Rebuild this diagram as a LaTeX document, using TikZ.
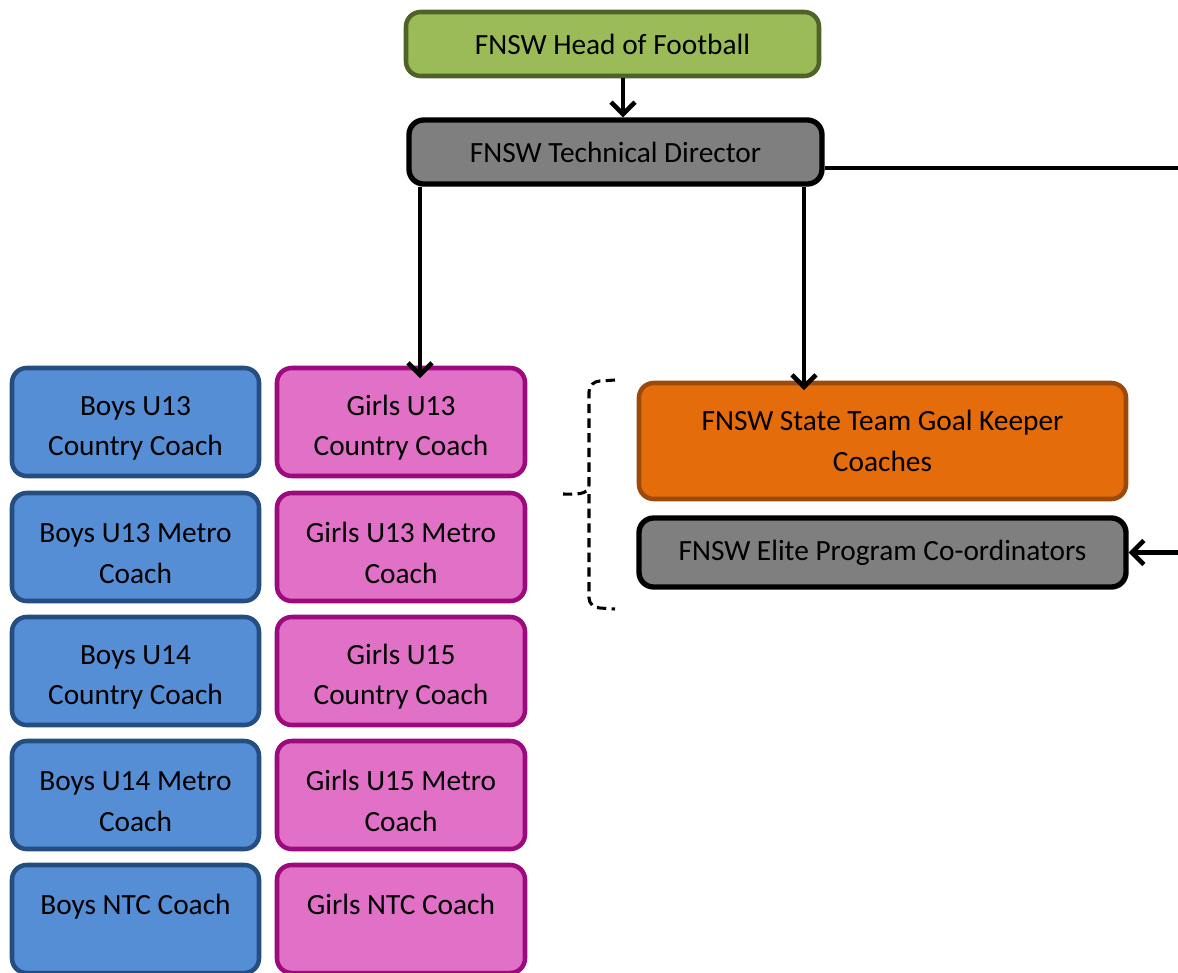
\documentclass[tikz,border=0pt]{standalone}
\usepackage{fontspec}
\setmainfont{Carlito}
\usetikzlibrary{arrows.meta}
\definecolor{hgreen}{HTML}{9BBB59}
\definecolor{hgreenb}{HTML}{4F6228}
\definecolor{tgray}{HTML}{7F7F7F}
\definecolor{bblue}{HTML}{558ED5}
\definecolor{bblueb}{HTML}{254E80}
\definecolor{gpink}{HTML}{E071C6}
\definecolor{gpinkb}{HTML}{9C0A7E}
\definecolor{gkor}{HTML}{E46C0A}
\definecolor{gkorb}{HTML}{9C4A0C}
\newcommand{\lift}{\rule{0pt}{24pt}}
\tikzset{
  box/.style={rounded corners=11pt, line width=3.4pt, align=center, inner sep=0pt,
    font=\fontsize{22}{30.5}\selectfont, text=black},
  greenbox/.style={box, fill=hgreen, draw=hgreenb, minimum width=309.75pt, minimum height=48pt},
  graybox/.style={box, fill=tgray, draw=black, line width=4pt},
  colbox/.style={box, minimum height=81pt},
  bluebox/.style={colbox, fill=bblue, draw=bblueb, minimum width=185.25pt},
  pinkbox/.style={colbox, fill=gpink, draw=gpinkb, minimum width=186pt},
  orbox/.style={box, fill=gkor, draw=gkorb, minimum width=365.25pt, minimum height=87pt},
  arr/.style={line width=3.6pt, -{Straight Barb[length=9pt, width=18pt, line width=3.4pt]}},
  bracestyle/.style={dash pattern=on 7pt off 4pt, line width=2.3pt}
}
\begin{document}
\begin{tikzpicture}[x=0.75pt, y=-0.75pt]
\useasboundingbox (0,0) rectangle (1178,972);
\node[greenbox] (head) at (612.5,44) {FNSW Head of Football};
\node[graybox, minimum width=309.75pt, minimum height=48pt] (td) at (615.5,152) {FNSW Technical Director};
% boys column
\node[bluebox] (b1) at (135.5,422) {\lift Boys U13\\Country Coach};
\node[bluebox] (b2) at (135.5,547) {\lift Boys U13 Metro\\Coach};
\node[bluebox] (b3) at (135.5,671) {\lift Boys U14\\Country Coach};
\node[bluebox] (b4) at (135.5,795) {\lift Boys U14 Metro\\Coach};
\node[bluebox] (b5) at (135.5,919) {\lift Boys NTC Coach\\\mbox{}};
% girls column
\node[pinkbox] (g1) at (401,422) {\lift Girls U13\\Country Coach};
\node[pinkbox] (g2) at (401,547) {\lift Girls U13 Metro\\Coach};
\node[pinkbox] (g3) at (401,671) {\lift Girls U15\\Country Coach};
\node[pinkbox] (g4) at (401,795) {\lift Girls U15 Metro\\Coach};
\node[pinkbox] (g5) at (401,919) {\lift Girls NTC Coach\\\mbox{}};
% right
\node[orbox] (gk) at (882.5,441) {FNSW State Team Goal Keeper\\Coaches};
\node[graybox, minimum width=365.25pt, minimum height=51.75pt] (elite) at (882.5,552.5) {FNSW Elite Program Co-ordinators};
% connectors
\coordinate (x1) at (623,0);
\coordinate (x2) at (420,0);
\coordinate (x3) at (804,0);
\coordinate (y2) at (0,378);
\coordinate (y3) at (0,390);
\draw[arr] (head.south -| x1) -- (td.north -| x1);
\draw[arr] (td.south -| x2) -- (x2 |- y2);
\draw[arr] (td.south -| x3) -- (x3 |- y3);
\coordinate (rt) at (1195,168);
\draw[arr] (td.east |- rt) -- (rt) |- (elite.east);
% brace
\draw[bracestyle] (615,380) -- (600,381) to[out=180,in=90] (589,392) -- (589,485)
  to[out=-90,in=0] (563,494);
\draw[bracestyle] (589,494) -- (589,598) to[out=-90,in=180] (600,608) -- (615,609);
\end{tikzpicture}
\end{document}
